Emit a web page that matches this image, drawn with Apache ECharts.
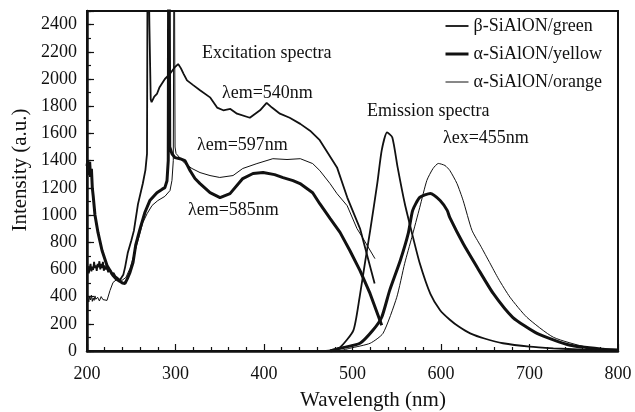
<!DOCTYPE html>
<html>
<head>
<meta charset="utf-8">
<script src="https://cdn.jsdelivr.net/npm/echarts@6/dist/echarts.min.js"></script>
<style>
  html, body { margin: 0; padding: 0; background: #fff; }
  #chart { width: 635px; height: 412px; }
</style>
</head>
<body>
<div id="chart"></div>
<script>
// excitation spectra [wavelength nm, intensity]
const greenExc = [
  [200,590],[201,625],[202,570],[203,610],[204,640],[205,585],[206,620],[207,600],[208,655],[209,610],
  [210,630],[211,590],[212,640],[213,615],[214,660],[215,600],[216,640],[217,610],[218,655],[219,590],
  [220,630],[221,600],[222,620],[224,580],[226,600],[228,560],[230,575],[232,550],[235,535],[237,520],
  [241,560],[243,615],[246,720],[250,810],[253,885],[257.6,1080],[263,1230],[266,1330],[267.8,1450],
  [268.3,2600],[269.3,3000],[270.5,2400],[272,1850],[273,1830],[276,1870],[279,1890],[282,1940],
  [288,2000],[294,2040],[299,2085],[303,2110],[306,2080],[309,2040],[313,1990],[320,1955],[327.7,1918],
  [339,1865],[347,1790],[354,1770],[362,1780],[369.5,1745],[384,1715],[395.5,1770],[403,1825],[409,1790],
  [418,1745],[429,1715],[441,1670],[452,1620],[463,1550],[482.5,1350],[494,1130],[508.5,900],[525,497]
];
const yellowExc = [
  [200,1360],[201,1400],[202,1300],[203,1390],[204,1280],[205,1340],[206,1200],[207,1140],[209,1000],
  [212.4,872],[217,739],[222.6,628],[229.4,555],[233,530],[237.3,512],[240,500],[243,497],[245.5,530],
  [248.6,578],[252,650],[255,778],[260,900],[265.5,1020],[271,1106],[279,1164],[285,1190],[288,1201],
  [290.4,1252],[291.8,1400],[292.5,3500],[293.5,1500],[296,1450],[299.4,1422],[305,1414],[310.7,1400],
  [316.4,1327],[322,1268],[327.7,1231],[339,1164],[350.3,1128],[361.6,1157],[376,1268],[387.6,1305],
  [399,1312],[412,1297],[421.5,1275],[432.8,1253],[440.7,1231],[455,1164],[463,1083],[474.6,975],
  [485.9,872],[497,739],[508.5,591],[519.8,423],[533,190]
];
const orangeExc = [
  [200,370],[201,395],[202,360],[203,400],[204,375],[205,410],[206,365],[207,390],[208,372],[209,405],
  [210,380],[212,395],[214,368],[216,400],[218,378],[220,392],[222.6,372],[226,445],[229.4,504],
  [235,533],[239.5,519],[244,541],[248.6,608],[253,703],[257.6,812],[263,943],[268,1011],[273.5,1070],
  [280,1106],[288,1137],[293.8,1180],[296,1254],[297.5,1400],[298.5,3500],[299.5,1500],[300.6,1452],
  [305,1420],[310.7,1378],[318.6,1342],[327.7,1312],[339,1290],[350,1276],[365,1290],[376,1342],
  [392,1378],[410,1414],[426,1408],[441,1414],[455,1378],[463,1327],[474.6,1231],[482.5,1157],
  [494,1068],[505,901],[512,827],[525.4,679]
];

// emission spectra, λex = 455 nm
const greenEm = [
  [470,0],[475,5],[486,27],[501,152],[508,395],[514,645],[520,887],[528,1232],[533,1475],[539,1607],
  [545,1570],[551,1350],[559,1086],[567,872],[576,645],[588,420],[599,300],[610,230],[620,180],[633,130],
  [650,90],[670,57],[700,32],[727,20],[760,10],[783,5],[800,3]
];
const yellowEm = [
  [475,0],[486,20],[508.5,57],[523,152],[533,248],[542,446],[554,666],[563,865],[568,1034],[576,1129],
  [588,1159],[599,1107],[607,1034],[610,980],[625,790],[641,614],[659,423],[681,248],[708.5,130],
  [746,42],[783,13],[800,8]
];
const orangeEm = [
  [485,0],[497,20],[520,57],[534.5,130],[550,395],[559,645],[567,835],[576,1056],[584,1254],[591,1342],
  [597,1379],[604.5,1364],[610,1327],[618,1232],[625,1107],[635,887],[645,770],[655,650],[665,530],
  [678,395],[697,248],[727,101],[765,27],[794,5],[800,4]
];

const names = ['β-SiAlON/green', 'α-SiAlON/yellow', 'α-SiAlON/orange'];
const widths = [1.8, 3, 1];

const serif = '"Liberation Serif", "Times New Roman", serif';
const myChart = echarts.init(document.getElementById('chart'));

function mkSeries(name, data, width, smooth) {
  return {
    name: name,
    type: 'line',
    data: data,
    symbol: 'none',
    smooth: smooth,
    clip: true,
    lineStyle: {color: '#111', width: width},
    itemStyle: {color: '#111'}
  };
}

function txt(text, x, y, size) {
  return {
    type: 'text', x: x, y: y, silent: true,
    style: {text: text, fill: '#111', font: (size || 18) + 'px ' + serif, verticalAlign: 'middle'}
  };
}

myChart.setOption({
  animation: false,
  grid: {
    left: 87, right: 17, top: 11, bottom: 61,
    show: true, borderColor: '#111', borderWidth: 2, backgroundColor: 'transparent'
  },
  legend: {
    data: names.map((n, i) => ({name: n, lineStyle: {width: widths[i], color: '#111'}})),
    orient: 'vertical',
    left: 444, top: 17,
    itemWidth: 23, itemHeight: 14, itemGap: 10,
    padding: 0,
    itemStyle: {opacity: 0},
    textStyle: {fontFamily: serif, fontSize: 18, color: '#111'}
  },
  xAxis: {
    type: 'value', min: 200, max: 800, interval: 100,
    axisLine: {lineStyle: {color: '#111', width: 2.5}},
    axisTick: {inside: true, length: 7, lineStyle: {color: '#111', width: 1.2}},
    minorTick: {show: true, splitNumber: 5, length: 4, lineStyle: {color: '#111', width: 1.2}},
    axisLabel: {fontFamily: serif, fontSize: 18, color: '#111', margin: 14},
    splitLine: {show: false}
  },
  yAxis: [{
    type: 'value', min: 0, max: 2500, interval: 200,
    axisLine: {lineStyle: {color: '#111', width: 2.5}},
    axisTick: {inside: true, length: 7, lineStyle: {color: '#111', width: 1.2}},
    axisLabel: {
      fontFamily: serif, fontSize: 18, color: '#111', margin: 10,
      formatter: v => (v % 200 === 0 ? String(v) : '')
    },
    splitLine: {show: false}
  }, {
    // minor ticks every 100
    type: 'value', min: 0, max: 2500, interval: 100, position: 'left',
    axisLine: {show: false},
    axisTick: {inside: true, length: 4, lineStyle: {color: '#111', width: 1.2}},
    axisLabel: {show: false},
    splitLine: {show: false}
  }],
  graphic: [
    txt('Excitation spectra', 202, 53),
    txt('λem=540nm', 222, 93),
    txt('λem=597nm', 197, 145),
    txt('λem=585nm', 188, 210),
    txt('Emission spectra', 367, 111),
    txt('λex=455nm', 443, 138),
    {
      type: 'text', x: 373, y: 400, silent: true,
      style: {text: 'Wavelength (nm)', fill: '#111', font: '21px ' + serif, align: 'center', verticalAlign: 'middle'}
    },
    {
      type: 'text', x: 20, y: 170, rotation: Math.PI / 2, silent: true,
      style: {text: 'Intensity (a.u.)', fill: '#111', font: '21px ' + serif, align: 'center', verticalAlign: 'middle'}
    }
  ],
  series: [
    mkSeries(names[0], greenExc, widths[0], false),
    mkSeries(names[1], yellowExc, widths[1], false),
    mkSeries(names[2], orangeExc, widths[2], false),
    mkSeries(names[0], greenEm, widths[0], 0.2),
    mkSeries(names[1], yellowEm, widths[1], 0.2),
    mkSeries(names[2], orangeEm, widths[2], 0.2)
  ]
});
window.addEventListener('resize', () => myChart.resize());
</script>
</body>
</html>
